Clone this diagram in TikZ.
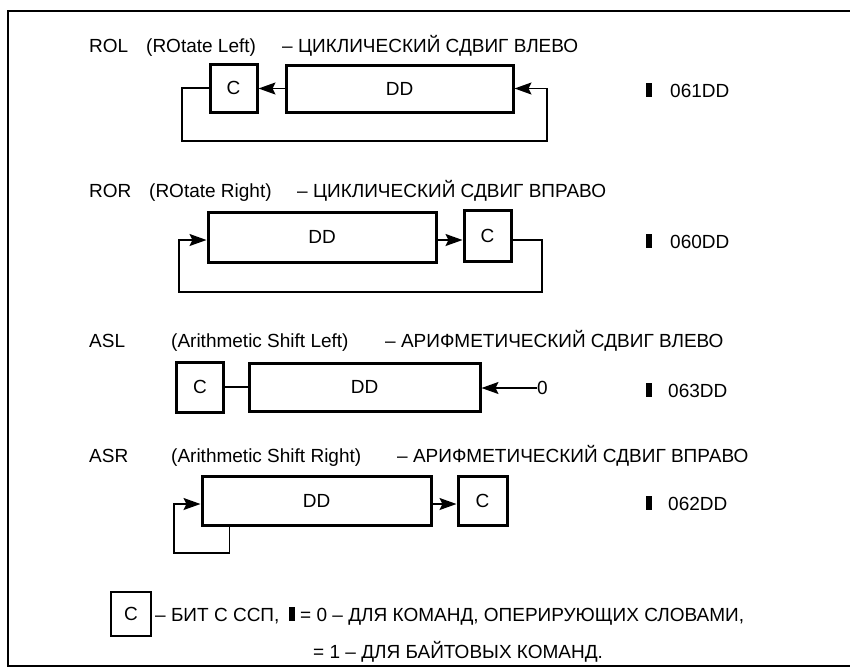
\documentclass[tikz,border=0pt]{standalone}
\usepackage{fontspec}
\setmainfont{Liberation Sans}
\usetikzlibrary{arrows.meta}
\begin{document}
\begin{tikzpicture}[x=1pt,y=-1pt,
  reg/.style={draw, line width=3pt, inner sep=0pt, font=\fontsize{19}{19}\selectfont},
  lbl/.style={anchor=base west, inner sep=0pt, font=\fontsize{19}{19}\selectfont},
  loop/.style={line width=1.8pt},
  arr/.style={line width=1.8pt, -{Stealth[length=17pt,width=12pt,inset=3pt]}},
  bitmark/.style={fill=black, inner sep=0pt, minimum width=6pt, minimum height=14pt},
]
\useasboundingbox (0,0) rectangle (850,670);
% frame
\draw[line width=2.5pt] (870,11) -- (8,11) -- (8,666) -- (870,666);

% ROL
\node[lbl] (t1a) at (89,52) {ROL};
\node[lbl] (t1b) at (146,52) {(ROtate Left)};
\node[lbl] (t1c) at (282,52) {– ЦИКЛИЧЕСКИЙ СДВИГ ВЛЕВО};
\node[reg, minimum width=47pt, minimum height=48pt] (c1) at (233.5,88) {C};
\node[reg, minimum width=227pt, minimum height=47pt] (d1) at (399.5,88.5) {DD};
\draw[arr] (d1.west) -- (c1.east |- d1.west);
\coordinate (l1) at (182,141);
\coordinate (r1) at (547,141);
\draw[arr] (c1.west) -| (l1) -- (r1) |- (d1.east);
\node[bitmark] (m1) at (649,90) {};
\node[lbl] (o1) at (670,97) {061DD};

% ROR
\node[lbl] (t2a) at (89,197) {ROR};
\node[lbl] (t2b) at (149,197) {(ROtate Right)};
\node[lbl] (t2c) at (297,197) {– ЦИКЛИЧЕСКИЙ СДВИГ ВПРАВО};
\node[reg, minimum width=228pt, minimum height=50pt] (d2) at (322,237) {DD};
\node[reg, minimum width=47pt, minimum height=51pt] (c2) at (487.5,236) {C};
\draw[arr] (d2.east |- 0,240) -- (c2.west |- 0,240);
\coordinate (l2) at (179,292);
\coordinate (r2) at (542,292);
\draw[arr] (c2.east |- 0,240) -| (r2) -- (l2) |- (d2.west |- 0,240);
\node[bitmark] (m2) at (649,241) {};
\node[lbl] (o2) at (670,248) {060DD};

% ASL
\node[lbl] (t3a) at (89,347) {ASL};
\node[lbl] (t3b) at (171,347) {(Arithmetic Shift Left)};
\node[lbl] (t3c) at (385,347) {– АРИФМЕТИЧЕСКИЙ СДВИГ ВЛЕВО};
\node[reg, minimum width=47pt, minimum height=50pt] (c3) at (200,387) {C};
\node[reg, minimum width=231pt, minimum height=48pt] (d3) at (364.5,387) {DD};
\draw[loop] (c3.east) -- (d3.west);
\node[lbl, anchor=west] (z3) at (537,388) {0};
\draw[arr] (z3.west) -- (d3.east |- z3.west);
\node[bitmark] (m3) at (649,390) {};
\node[lbl] (o3) at (668,397) {063DD};

% ASR
\node[lbl] (t4a) at (89,462) {ASR};
\node[lbl] (t4b) at (171,462) {(Arithmetic Shift Right)};
\node[lbl] (t4c) at (397,462) {– АРИФМЕТИЧЕСКИЙ СДВИГ ВПРАВО};
\node[reg, minimum width=229pt, minimum height=49pt] (d4) at (316.5,501) {DD};
\node[reg, minimum width=49pt, minimum height=49pt] (c4) at (482.5,501) {C};
\draw[arr] (d4.east |- 0,504) -- (c4.west |- 0,504);
\coordinate (s4) at ([xshift=29pt]d4.south west);
\coordinate (l4) at (174,553);
\draw[arr] (s4) |- (l4) |- (d4.west |- 0,504);
\node[bitmark] (m4) at (649,503) {};
\node[lbl] (o4) at (668,510) {062DD};

% legend
\node[reg, line width=2.2pt, minimum width=40pt, minimum height=44pt] (c5) at (131,614) {C};
\node[lbl] (g1) at (155,621) {– БИТ С ССП,};
\node[bitmark, anchor=west] (m5) at ([xshift=9pt,yshift=7pt]g1.base east) {};
\node[lbl] (g2) at ([xshift=5pt]m5.east |- g1.base) {= 0 – ДЛЯ КОМАНД, ОПЕРИРУЮЩИХ СЛОВАМИ,};
\node[lbl] (g3) at (313,658) {= 1 – ДЛЯ БАЙТОВЫХ КОМАНД.};
\end{tikzpicture}
\end{document}
